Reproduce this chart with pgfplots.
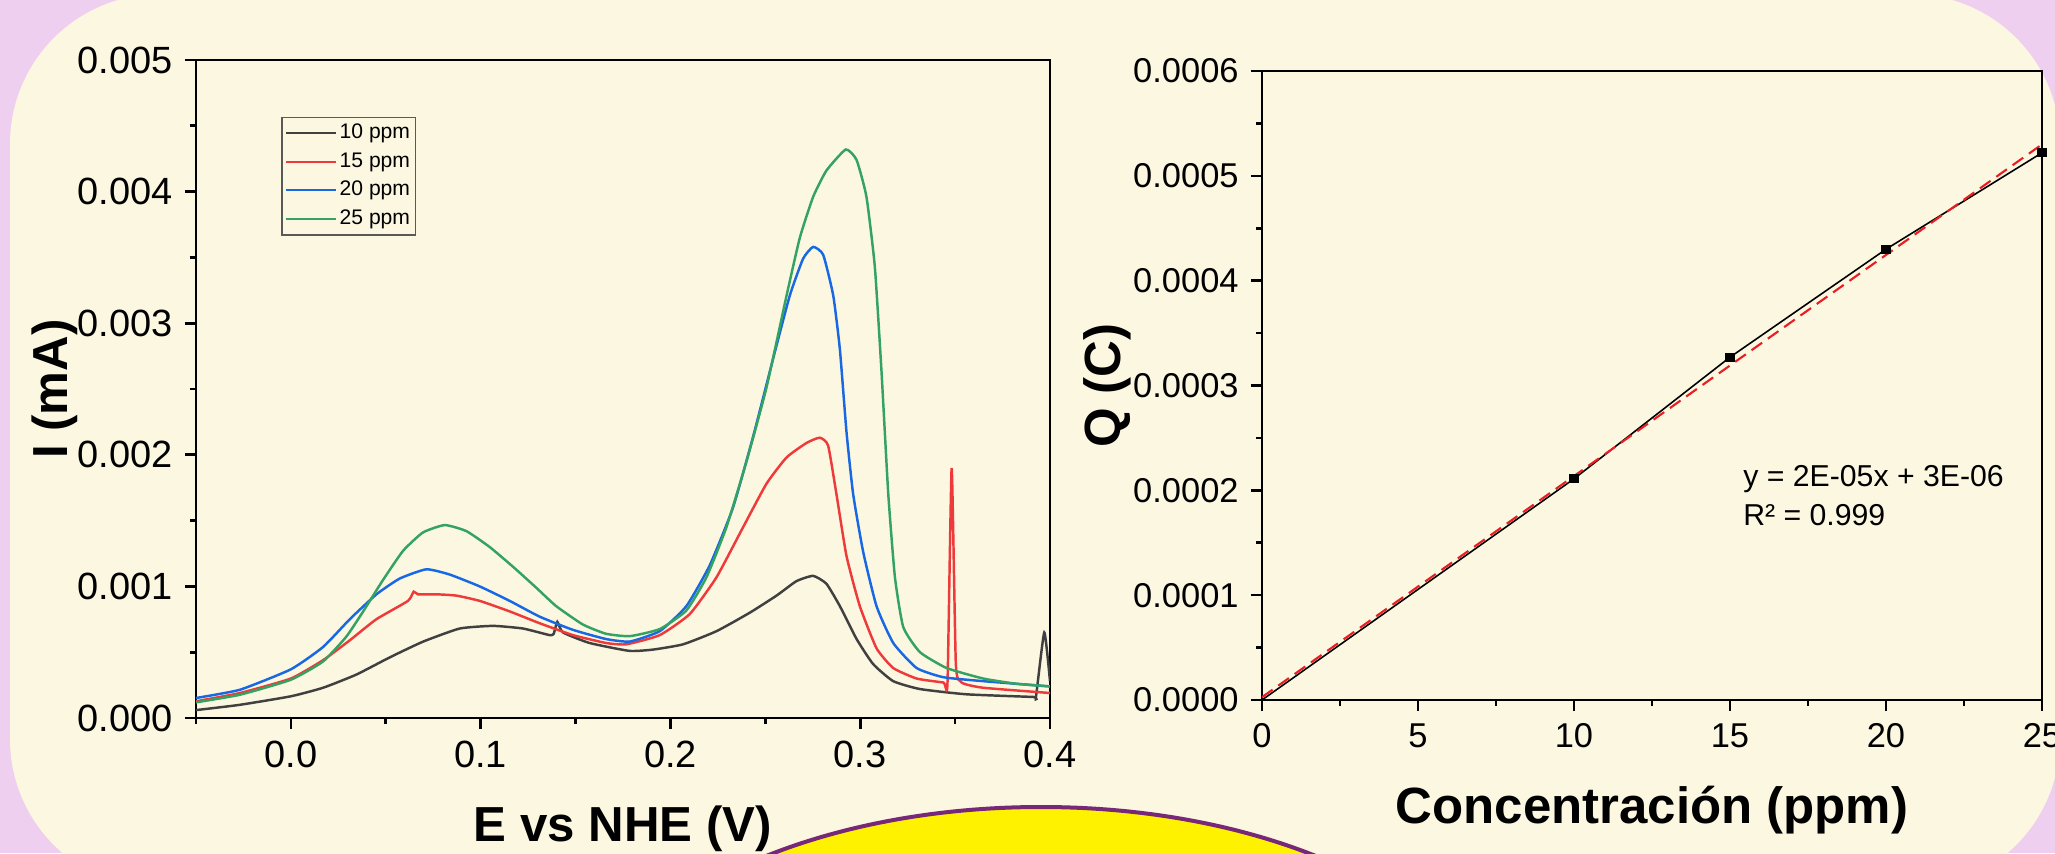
\documentclass[border=0pt]{standalone}
\usepackage{fontspec}
\setmainfont{Liberation Sans}
\usepackage{pgfplots}
\pgfplotsset{compat=1.18}
\definecolor{bgpink}{RGB}{239,207,239}
\definecolor{bgcream}{RGB}{252,247,225}
\definecolor{ovalpurple}{RGB}{120,40,120}
\definecolor{c10}{RGB}{64,64,64}
\definecolor{c15}{RGB}{238,58,58}
\definecolor{c20}{RGB}{24,104,228}
\definecolor{c25}{RGB}{52,162,98}
\definecolor{fitred}{RGB}{232,30,36}

\pgfplotsset{
  panel/.style={
    scale only axis, anchor=south west,
    axis line style={line width=0.75pt},
    xtick pos=bottom, ytick pos=left, tick align=outside,
    major tick length=1.1mm, minor tick length=0.6mm,
    every tick/.style={black, line width=0.75pt},
    scaled ticks=false,
  },
  curve/.style={line width=0.7pt, smooth, tension=0.3},
}

\begin{document}
\begin{tikzpicture}[x=0.1mm,y=0.1mm]
\useasboundingbox (0,0) rectangle (2055,853);
\fill[bgpink] (0,0) rectangle (2055,853);
\begin{scope}
  \clip (0,0) rectangle (2055,853);
  \fill[bgcream, rounded corners=15mm] (10,-36) rectangle (2060,859);
\end{scope}

% voltammograms
\begin{axis}[panel,
  at={(19.6mm,13.5mm)}, width=85.4mm, height=65.8mm,
  xmin=-0.05, xmax=0.4, ymin=0, ymax=0.005,
  xtick={0,0.1,0.2,0.3,0.4}, minor xtick={-0.05,0.05,0.15,0.25,0.35},
  ytick={0,0.001,0.002,0.003,0.004,0.005},
  minor ytick={0.0005,0.0015,0.0025,0.0035,0.0045},
  xticklabel style={font=\fontsize{10.8}{12}\selectfont,
    /pgf/number format/.cd, fixed, fixed zerofill, precision=1, assume math mode=true},
  yticklabel style={font=\fontsize{10.8}{12}\selectfont,
    /pgf/number format/.cd, fixed, fixed zerofill, precision=3, assume math mode=true},
  xlabel={E vs NHE (V)}, ylabel={I (mA)},
  label style={font=\fontsize{14}{16}\selectfont\bfseries},
  xlabel style={at={(axis description cs:0.5,-0.1884)}, anchor=base},
  ylabel style={at={(axis description cs:-0.151,0.5)}, anchor=base},
  legend style={at={(axis description cs:0.1,0.914)}, anchor=north west,
    font=\fontsize{6}{7}\selectfont, draw=black!65, fill=none,
    inner sep=0.3mm, row sep=0.25mm,
    nodes={inner sep=0.25mm, text height=1.6mm, text depth=0.5mm}},
  legend cell align=left,
  legend image code/.code={\draw[#1, line width=0.6pt] (0mm,0mm) -- (5mm,0mm);},
]
\addplot[c10, curve] coordinates {
  (-0.05,0.00006) (-0.027,0.0001) (0.0,0.000165) (0.017,0.00023) (0.0345,0.00033)
  (0.052,0.00046) (0.0696,0.00058) (0.089,0.00068) (0.1065,0.0007) (0.1223,0.00068)
  (0.1363,0.00063) (0.1385,0.00064) (0.1404,0.00073) (0.1434,0.00065) (0.1574,0.00057)
  (0.1784,0.00051) (0.1909,0.00052) (0.2067,0.00056) (0.2243,0.00066) (0.2418,0.0008)
  (0.2559,0.00093) (0.2664,0.00104) (0.2752,0.00108) (0.2822,0.00102) (0.2893,0.00085)
  (0.2981,0.0006) (0.3068,0.00041) (0.3174,0.00028) (0.3315,0.00022) (0.3561,0.00018)
  (0.3912,0.00016) (0.3926,0.00016) (0.397,0.00065) (0.4,0.00028)
};
\addlegendentry{10 ppm}
\addplot[c15, curve] coordinates {
  (-0.05,0.000127) (-0.0268,0.00019) (0.0,0.0003) (0.017,0.00044) (0.031,0.00059)
  (0.045,0.00075) (0.0617,0.00089) (0.0647,0.00096) (0.067,0.00094) (0.0766,0.00094)
  (0.0872,0.00093) (0.0995,0.00089) (0.1153,0.00081) (0.1311,0.00072) (0.1486,0.00063)
  (0.1661,0.00057) (0.1768,0.00056) (0.1944,0.00063) (0.2102,0.00079) (0.2243,0.00107)
  (0.2383,0.00145) (0.2506,0.00178) (0.2612,0.00198) (0.2717,0.00209) (0.2787,0.00213)
  (0.2831,0.00207) (0.2875,0.0017) (0.2928,0.00123) (0.2998,0.00085) (0.3086,0.00053)
  (0.3174,0.00038) (0.3297,0.0003) (0.3438,0.00027) (0.346,0.00027) (0.3482,0.0019)
  (0.3504,0.00041) (0.3534,0.00027) (0.3648,0.00023) (0.4,0.00019)
};
\addlegendentry{15 ppm}
\addplot[c20, curve] coordinates {
  (-0.05,0.000152) (-0.0268,0.000215) (0.0,0.00037) (0.017,0.00054) (0.031,0.00075)
  (0.0451,0.00094) (0.0574,0.00106) (0.0714,0.00113) (0.0837,0.00109) (0.0995,0.001)
  (0.1153,0.00089) (0.1311,0.00077) (0.1486,0.00067) (0.1661,0.0006) (0.1786,0.000581)
  (0.1944,0.00066) (0.2084,0.00085) (0.2207,0.00116) (0.233,0.0016) (0.2436,0.00214)
  (0.2541,0.00273) (0.2629,0.00321) (0.2699,0.00349) (0.2752,0.00358) (0.2805,0.00352)
  (0.2858,0.00321) (0.2893,0.0028) (0.2928,0.00217) (0.2963,0.0017) (0.3016,0.00126)
  (0.3086,0.00085) (0.3174,0.00057) (0.3297,0.00038) (0.3438,0.00031) (0.3648,0.00028)
  (0.4,0.00024)
};
\addlegendentry{20 ppm}
\addplot[c25, curve] coordinates {
  (-0.05,0.000119) (-0.0268,0.000177) (0.0,0.000291) (0.017,0.00043) (0.0293,0.00062)
  (0.0381,0.00081) (0.0486,0.00105) (0.0591,0.00127) (0.0696,0.00141) (0.0811,0.001466)
  (0.0925,0.00142) (0.1047,0.0013) (0.117,0.00115) (0.1293,0.00099) (0.1398,0.00085)
  (0.1539,0.00071) (0.1661,0.00064) (0.1786,0.000622) (0.1944,0.000676) (0.2084,0.000817)
  (0.219,0.00107) (0.2295,0.00145) (0.2401,0.00195) (0.2506,0.00251) (0.2612,0.00321)
  (0.2682,0.00365) (0.2752,0.00396) (0.2822,0.00416) (0.2924,0.00432) (0.2981,0.00424)
  (0.3033,0.00396) (0.3077,0.00343) (0.3112,0.00264) (0.3148,0.0017) (0.3183,0.00107)
  (0.3227,0.00069) (0.3315,0.0005) (0.3455,0.00038) (0.3648,0.0003) (0.3824,0.00026)
  (0.4,0.00024)
};
\addlegendentry{25 ppm}
\end{axis}

% calibration
\begin{axis}[panel,
  at={(126.2mm,15.3mm)}, width=78mm, height=62.9mm,
  xmin=0, xmax=25, ymin=0, ymax=0.0006,
  xtick={0,5,10,15,20,25}, minor xtick={2.5,7.5,12.5,17.5,22.5},
  ytick={0,0.0001,0.0002,0.0003,0.0004,0.0005,0.0006},
  minor ytick={0.00005,0.00015,0.00025,0.00035,0.00045,0.00055},
  xticklabel style={font=\fontsize{9.8}{11}\selectfont,
    /pgf/number format/.cd, fixed, precision=0, assume math mode=true},
  yticklabel style={font=\fontsize{9.8}{11}\selectfont,
    /pgf/number format/.cd, fixed, fixed zerofill, precision=4, assume math mode=true},
  xlabel={Concentración (ppm)}, ylabel={Q (C)},
  label style={font=\fontsize{14.5}{17}\selectfont\bfseries},
  xlabel style={at={(axis description cs:0.5,-0.197)}, anchor=base},
  ylabel style={at={(axis description cs:-0.181,0.5)}, anchor=base},
]
\addplot[black, line width=0.45pt, mark=square*, mark size=0.38mm,
  mark indices={2,3,4,5}, mark options={solid, fill=black}] coordinates {
  (0,0) (10,0.000211) (15,0.000327) (20,0.00043) (25,0.000522)
};
\addplot[fitred, line width=0.6pt, dash pattern=on 1.3mm off 0.7mm] coordinates {
  (0,0.0000027) (25,0.00053)
};
\node[anchor=base west, font=\fontsize{8.6}{10}\selectfont] at (axis cs:15.03,0.000204) {y = 2E-05x + 3E-06};
\node[anchor=base west, font=\fontsize{8.6}{10}\selectfont] at (axis cs:15.03,0.000166) {R² = 0.999};
\end{axis}

\begin{scope}
  \clip (0,0) rectangle (2055,853);
  \draw[ovalpurple, line width=0.4mm, fill=yellow] (1041,-204) ellipse [x radius=462, y radius=250];
\end{scope}
\end{tikzpicture}
\end{document}
